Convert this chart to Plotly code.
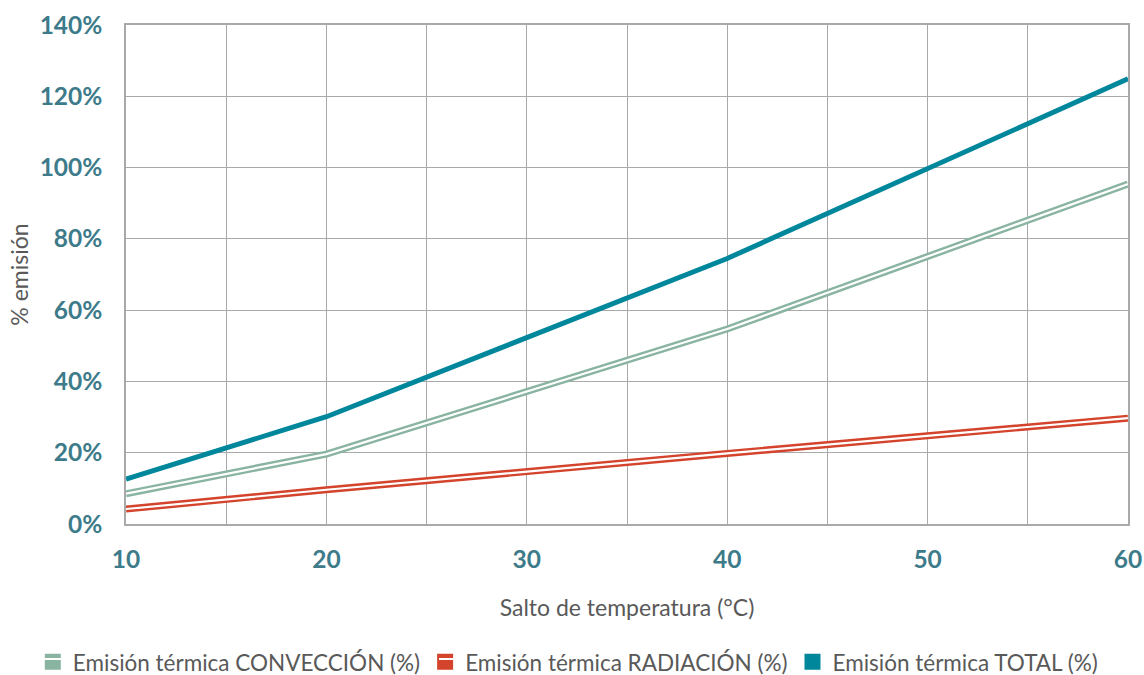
import plotly.graph_objects as go

temps = [10, 20, 40, 60]
conveccion = [8.5, 19.6, 54.7, 95.4]
radiacion = [4.2, 9.6, 19.8, 29.7]
total = [12.6, 30.1, 74.5, 124.9]

names = ["Emisión térmica CONVECCIÓN (%)", "Emisión térmica RADIACIÓN (%)", "Emisión térmica TOTAL (%)"]
c_conv = "#8AB4A2"
c_rad = "#D4432B"
c_tot = "#00879C"
tick_color = "#3D7B8A"
text_gray = "#595959"
grid = "#A9A9A9"

fig = go.Figure()
# double lines (compound)
for vals, col in [(conveccion, c_conv), (radiacion, c_rad)]:
    y = [v / 100 for v in vals]
    fig.add_trace(go.Scatter(x=temps, y=y, mode="lines", line=dict(color=col, width=7),
                             showlegend=False, hoverinfo="skip"))
    fig.add_trace(go.Scatter(x=temps, y=y, mode="lines", line=dict(color="white", width=2.2),
                             showlegend=False, hoverinfo="skip"))
fig.add_trace(go.Scatter(x=temps, y=[v / 100 for v in total], mode="lines",
                         line=dict(color=c_tot, width=5), showlegend=False))

# legend entries
for nm, col in zip(names, [c_conv, c_rad, c_tot]):
    fig.add_trace(go.Scatter(x=[None], y=[None], mode="markers", name=nm,
                             marker=dict(symbol="square", size=17, color=col)))

# white middle stripe on the double-line legend keys (pixel -> paper conversion)
def px_x(p):
    return (p - 126) / 1002.0

def px_y(p):
    return (524 - p) / 499.0

for xc in [53.5, 448.5]:
    fig.add_annotation(text=" ", xref="paper", yref="paper", x=px_x(xc), y=px_y(659),
                       xanchor="center", yanchor="middle", showarrow=False,
                       width=20, height=2, bgcolor="white", borderpad=0, borderwidth=0,
                       font=dict(size=1))

fig.update_layout(
    width=1144, height=675,
    margin=dict(l=126, r=16, t=25, b=151, autoexpand=False),
    plot_bgcolor="white", paper_bgcolor="white",
    font=dict(family="Lato, Open Sans, sans-serif", color=text_gray),
    legend=dict(orientation="h", x=-0.093, xanchor="left", y=-0.277, yanchor="middle",
                font=dict(size=22.5, color=text_gray), itemwidth=30, tracegroupgap=0,
                traceorder="normal", bgcolor="rgba(0,0,0,0)"),
    xaxis=dict(range=[10, 60], dtick=10, showgrid=True, gridcolor=grid, gridwidth=1,
               minor=dict(dtick=5, showgrid=True, gridcolor=grid, gridwidth=1),
               showline=True, linecolor=grid, linewidth=1.5, mirror=True, zeroline=False,
               tickfont=dict(size=24.5, color=tick_color, family="Lato, sans-serif", weight="bold"),
               ticks="", ticklabelstandoff=13, automargin=False,
               title=dict(text="Salto de temperatura (°C)", font=dict(size=23, color=text_gray), standoff=28)),
    yaxis=dict(range=[0, 1.4], dtick=0.2, tickformat=".0%", showgrid=True, gridcolor=grid, gridwidth=1,
               showline=True, linecolor=grid, linewidth=1.5, mirror=True, zeroline=False,
               tickfont=dict(size=24.5, color=tick_color, family="Lato, sans-serif", weight="bold"),
               ticks="", ticklabelstandoff=17, automargin=False,
               title=dict(text="% emisión", font=dict(size=23, color=text_gray), standoff=5)),
)

fig.write_html("out.html", config={"displayModeBar": False},
               post_script="document.body.style.margin='0';document.body.style.overflow='hidden';")
